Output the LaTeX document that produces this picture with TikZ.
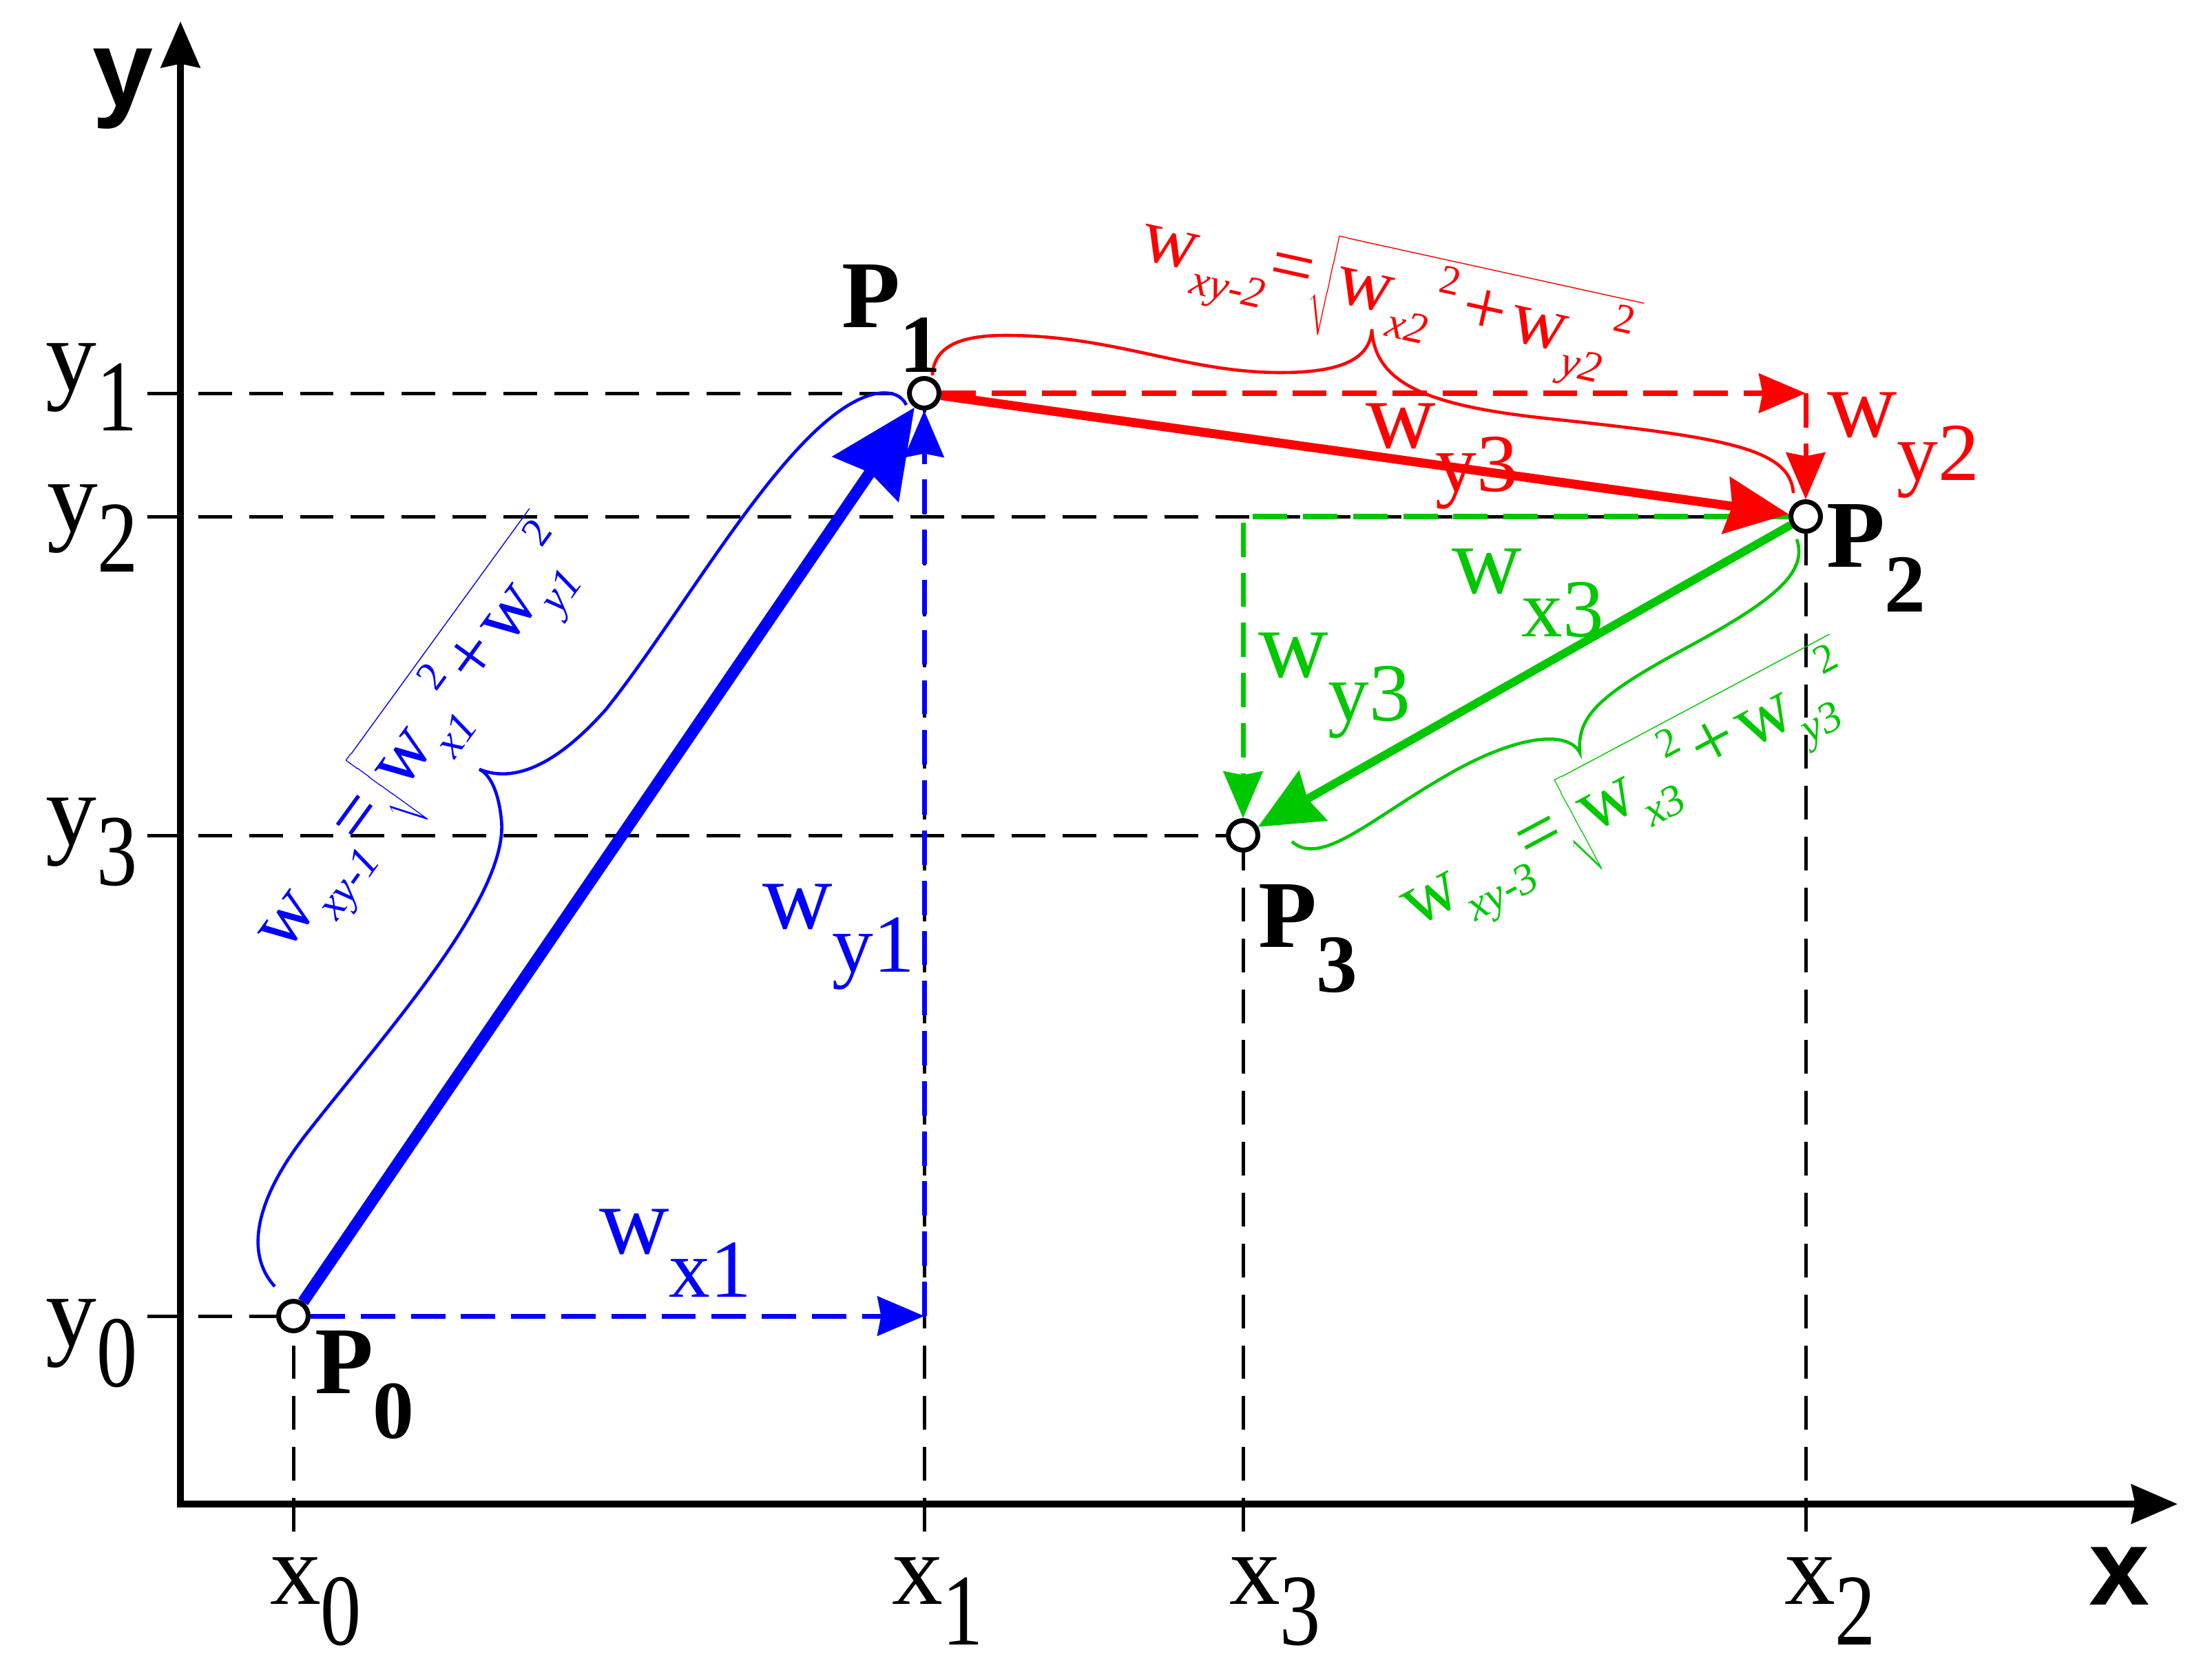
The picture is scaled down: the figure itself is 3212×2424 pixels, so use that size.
\RequirePackage{fix-cm}
\documentclass[tikz,border=0pt]{standalone}
\usepackage{fontspec}
\setmainfont{Liberation Serif}
\newfontfamily\axfont{Liberation Sans}
\usetikzlibrary{arrows.meta}
\definecolor{vblue}{RGB}{0,0,255}
\definecolor{vred}{RGB}{255,0,0}
\definecolor{vgreen}{RGB}{0,200,0}
\pgfdeclarelayer{bg}
\pgfsetlayers{bg,main}
\newcommand\ticklab[2]{{\fontsize{42}{42}\selectfont #1\raisebox{-17pt}{\scalebox{0.8}[1]{#2}}}}
\newcommand\plab[1]{{\bfseries\fontsize{39.5}{40}\selectfont P\raisebox{-18.5pt}{\fontsize{34}{34}\selectfont #1}}}
\newcommand\wlab[1]{{\fontsize{40}{40}\selectfont w\raisebox{-18pt}{\fontsize{34}{34}\selectfont #1}}}
\newcommand\fw[1]{w\raisebox{-9.5pt}{\fontsize{18}{18}\selectfont\itshape #1}}
\newcommand\fsq{\kern1pt\raisebox{13pt}{\fontsize{17}{17}\selectfont 2}}
\newcommand\formula[3]{{\fontsize{32}{32}\selectfont\fw{#1}=$\sqrt{\hbox{\fw{#2}\fsq\kern3pt+\kern3pt\fw{#3}\fsq\kern2pt}}$}}
\tikzset{
  dtip/.tip={Stealth[length=19.3pt,width=16.2pt,inset=1.5pt]},
  atip/.tip={Stealth[length=19pt,width=16pt,inset=1.5pt]},
  bigtip/.tip={Stealth[length=35.6pt,width=32.4pt,inset=3pt]},
  midtip/.tip={Stealth[length=26pt,width=23.3pt,inset=2.5pt]},
  ptnode/.style={circle, draw=black, fill=white, line width=2pt, minimum size=12.2pt, inner sep=0pt},
  gridline/.style={black, line width=1.42pt, dash pattern=on 13.9pt off 7.1pt},
  axisline/.style={black, line width=2.85pt, atip-atip},
  cdash/.style={line width=2pt, dash pattern=on 14.2pt off 6.5pt, -dtip},
  bvec/.style={vblue, line width=4.8pt, -bigtip},
  rvec/.style={vred, line width=3.7pt, -midtip},
  gvec/.style={vgreen, line width=3.4pt, -midtip},
  bracecurve/.style={line width=1.3pt},
  lbl/.style={anchor=base west, inner sep=0pt, outer sep=0pt}
}
\begin{document}
\begin{tikzpicture}[x=0.01cm,y=-0.01cm]
\useasboundingbox (0,0) rectangle (3212,2424);
% points
\node[ptnode] (P0) at (426,1911) {};
\node[ptnode] (P1) at (1342,571) {};
\node[ptnode] (P2) at (2622,750) {};
\node[ptnode] (P3) at (1805,1213) {};
% helper coordinates
\coordinate (ty0) at (214,1911);
\coordinate (ty1) at (214,571);
\coordinate (ty2) at (214,750);
\coordinate (ty3) at (214,1213);
\coordinate (bx0) at (426,2224);
\coordinate (bx1) at (1342,2224);
\coordinate (bx3) at (1805,2224);
\coordinate (bx2) at (2622,2224);
\coordinate (c1) at (1342,1911);
\coordinate (c2) at (2622,571);
\coordinate (c3) at (1805,750);
\coordinate (O) at (262,2184);
\coordinate (ytop) at (262,31);
\coordinate (xend) at (3162,2184);
\begin{pgfonlayer}{bg}
% grid
\draw[gridline] (ty0) -- (P0);
\draw[gridline] (ty1) -- (P1);
\draw[gridline] (ty2) -- (P2);
\draw[gridline] (ty3) -- (P3);
\draw[gridline] (bx0) -- (P0);
\draw[gridline] (bx1) -- (P1);
\draw[gridline] (bx3) -- (P3);
\draw[gridline] (bx2) -- (P2);
% axes
\draw[axisline] (ytop) -- (O) -- (xend);
% component arrows
\draw[cdash, vblue] (P0) -- (c1);
\draw[cdash, vblue] (c1) -- (P1);
\draw[cdash, vred] (P1) -- (c2);
\draw[cdash, vred] (c2) -- (P2);
\draw[cdash, vgreen] (P2) -- (c3) -- (P3);
% braces
\draw[vblue, bracecurve] (399,1868) .. controls (355,1820) and (370,1740) .. (450,1640)
  .. controls (560,1500) and (740,1300) .. (728,1190)
  .. controls (724,1150) and (712,1125) .. (696,1117)
  .. controls (740,1135) and (800,1120) .. (880,1030)
  .. controls (1000,880) and (1150,600) .. (1270,572)
  .. controls (1295,567) and (1310,575) .. (1316,588);
\draw[vred, bracecurve] (1354,545) .. controls (1356,500) and (1400,487) .. (1460,487)
  .. controls (1620,487) and (1720,541) .. (1860,541)
  .. controls (1950,541) and (1990,520) .. (1992,478)
  .. controls (1996,560) and (2080,590) .. (2250,608)
  .. controls (2500,635) and (2600,650) .. (2604,716);
\draw[vgreen, bracecurve] (2609,783) .. controls (2625,830) and (2580,870) .. (2450,940)
  .. controls (2320,1010) and (2290,1040) .. (2294,1093)
  .. controls (2280,1065) and (2220,1062) .. (2120,1115)
  .. controls (2000,1180) and (1920,1262) .. (1876,1222);
% vectors
\draw[bvec] (P0) -- (P1);
\draw[rvec] (P1) -- (P2);
\draw[gvec] (P2) -- (P3);
\end{pgfonlayer}
% axis labels
\node[lbl] (ylab) at (134,154) {\axfont\bfseries\fontsize{45}{45}\selectfont y};
\node[lbl] (xlab) at (3033,2330) {\axfont\bfseries\fontsize{45}{45}\selectfont x};
% tick labels
\node[lbl] (Ly1) at (67,566) {\ticklab{y}{1}};
\node[lbl] (Ly2) at (68,771) {\ticklab{y}{2}};
\node[lbl] (Ly3) at (67,1226) {\ticklab{y}{3}};
\node[lbl] (Ly0) at (67,1954) {\ticklab{y}{0}};
\node[lbl] (Lx0) at (392,2329) {\ticklab{x}{0}};
\node[lbl] (Lx1) at (1295,2329) {\ticklab{x}{1}};
\node[lbl] (Lx3) at (1785,2329) {\ticklab{x}{3}};
\node[lbl] (Lx2) at (2591,2329) {\ticklab{x}{2}};
% point labels
\node[lbl] (LP0) at (457,2023) {\plab{0}};
\node[lbl] (LP1) at (1222,475) {\plab{1}};
\node[lbl] (LP2) at (2652,823) {\plab{2}};
\node[lbl] (LP3) at (1827,1375) {\plab{3}};
% component labels
\node[lbl, text=vblue] (Lwx1) at (870,1820) {\wlab{x1}};
\node[lbl, text=vblue] (Lwy1) at (1107,1348) {\wlab{y1}};
\node[lbl, text=vred] (Lwy3r) at (1983,650) {\wlab{y3}};
\node[lbl, text=vred] (Lwy2) at (2653,634) {\wlab{y2}};
\node[lbl, text=vgreen] (Lwx3) at (2108,861) {\wlab{x3}};
\node[lbl, text=vgreen] (Lwy3) at (1827,983) {\wlab{y3}};
% formulas
\node[lbl, text=vblue, rotate=54] (F1) at (415,1385) {\formula{xy-1}{x1}{y1}};
\node[lbl, text=vred, rotate=-12.4] (F2) at (1653,375) {\formula{xy-2}{x2}{y2}};
\node[lbl, text=vgreen, rotate=28] (F3) at (2055,1347) {\formula{xy-3}{x3}{y3}};
\end{tikzpicture}
\end{document}
